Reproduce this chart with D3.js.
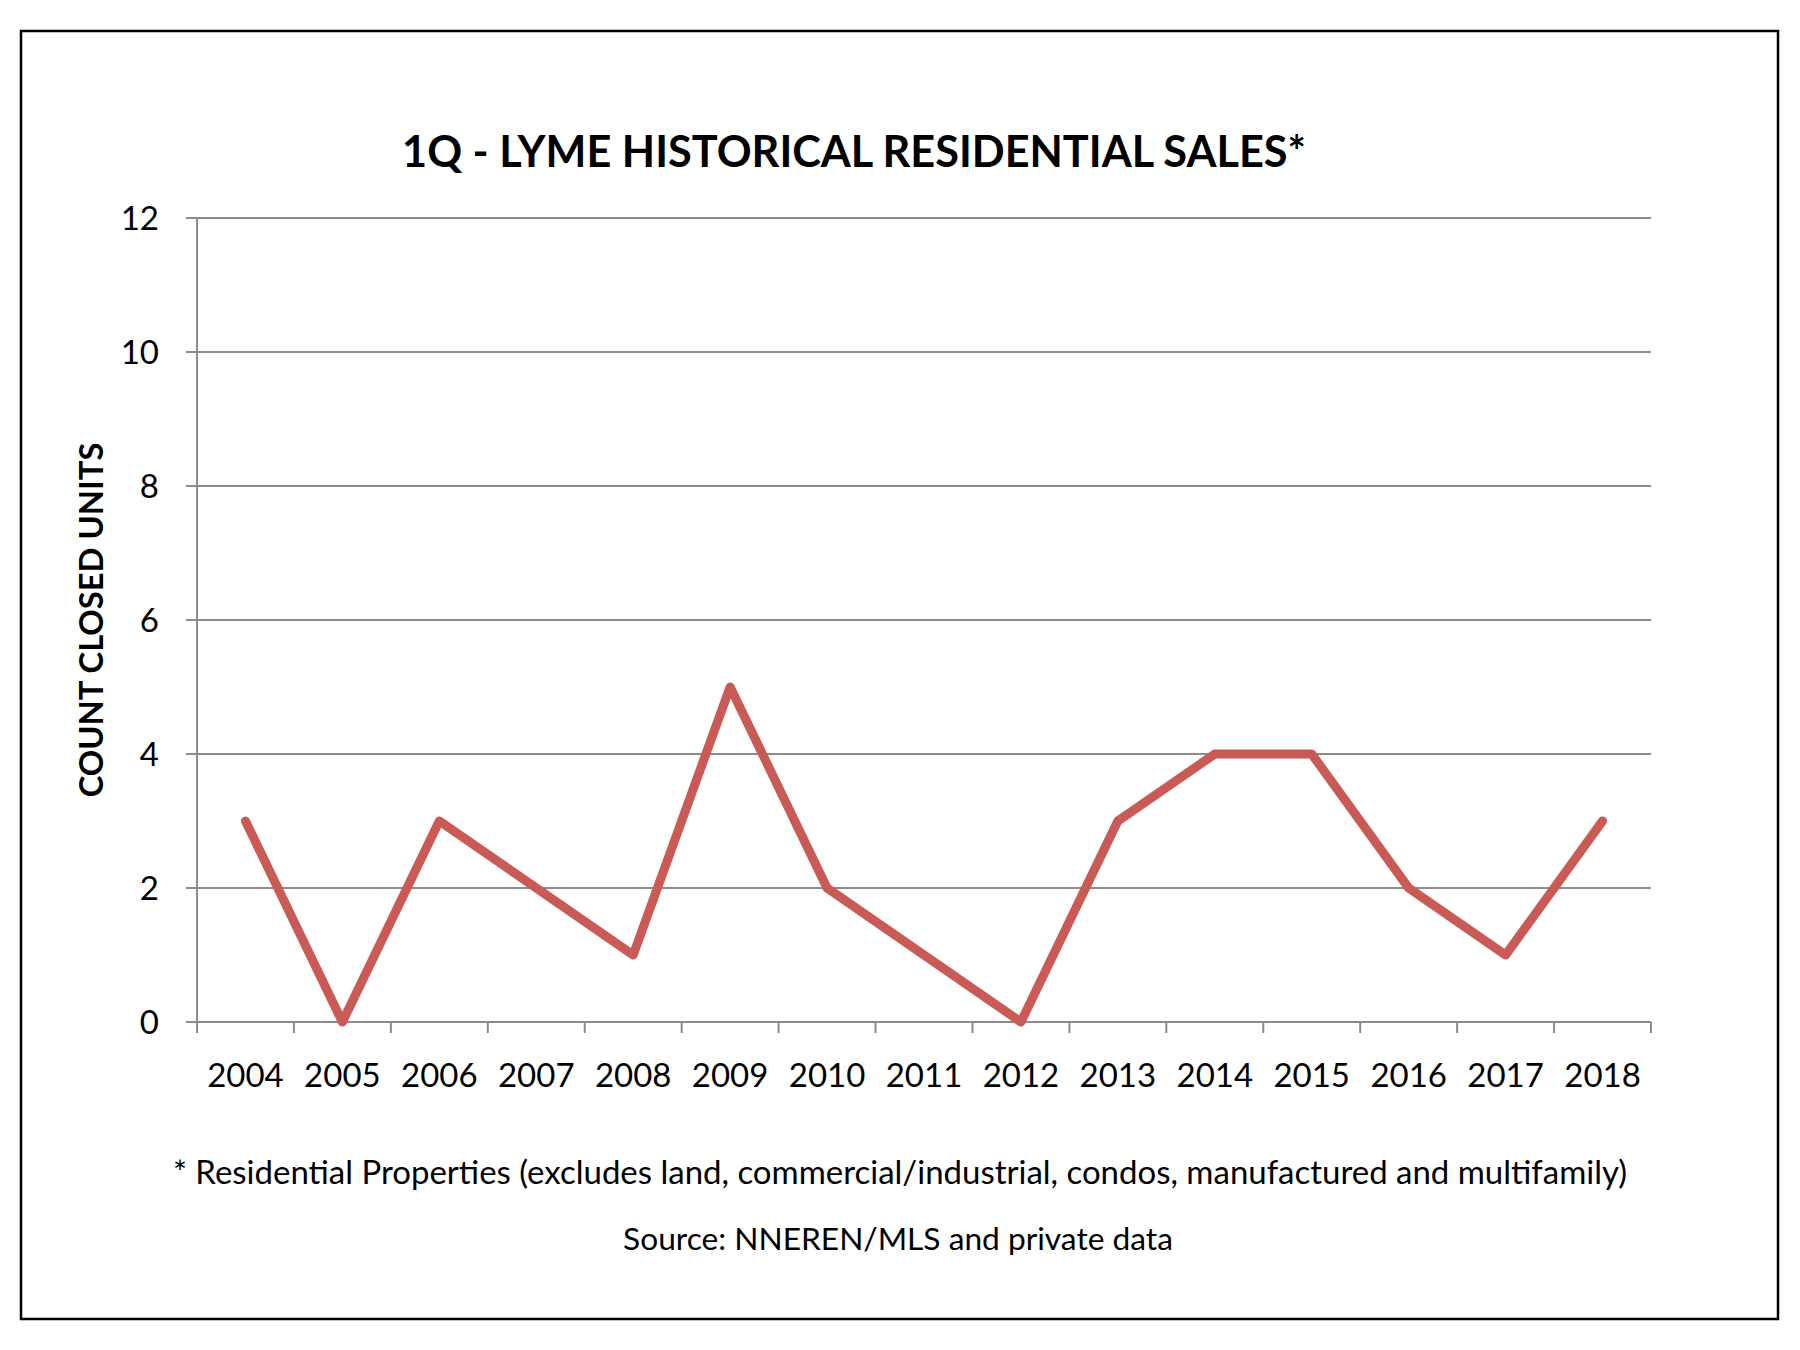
<!DOCTYPE html>
<html>
<head>
<meta charset="utf-8">
<script src="https://cdn.jsdelivr.net/npm/d3@7"></script>
<style>
  html, body { margin: 0; padding: 0; background: #fff; }
  svg { display: block; }
  text { font-family: Lato, "Open Sans", "DejaVu Sans", sans-serif; fill: #000; }
</style>
</head>
<body>
<script>
const years = ["2004","2005","2006","2007","2008","2009","2010","2011","2012","2013","2014","2015","2016","2017","2018"];
const sales = [3, 0, 3, 2, 1, 5, 2, 1, 0, 3, 4, 4, 2, 1, 3];
const yTicks = [0, 2, 4, 6, 8, 10, 12];
const titleText = "1Q - LYME HISTORICAL RESIDENTIAL SALES*";
const yAxisTitle = "COUNT CLOSED UNITS";
const footnote = "* Residential Properties (excludes land, commercial/industrial, condos, manufactured and multifamily)";
const sourceText = "Source: NNEREN/MLS and private data";

const W = 1800, H = 1350;
const plot = { left: 197, right: 1651, top: 218, bottom: 1022 };

const svg = d3.select("body").append("svg").attr("width", W).attr("height", H);
svg.append("rect").attr("width", W).attr("height", H).attr("fill", "#fff");

// outer border
svg.append("rect")
  .attr("x", 21).attr("y", 31).attr("width", 1757).attr("height", 1288)
  .attr("fill", "none").attr("stroke", "#000").attr("stroke-width", 2.5);

const x = d3.scaleBand().domain(years).range([plot.left, plot.right]).padding(0);
const y = d3.scaleLinear().domain([0, 12]).range([plot.bottom, plot.top]);

const grid = "#8c8c8c";

// gridlines
svg.append("g").selectAll("line").data(yTicks).join("line")
  .attr("x1", plot.left - 11).attr("x2", plot.right)
  .attr("y1", d => y(d)).attr("y2", d => y(d))
  .attr("stroke", grid).attr("stroke-width", 2);

// y axis line
svg.append("line")
  .attr("x1", plot.left).attr("x2", plot.left)
  .attr("y1", plot.top).attr("y2", plot.bottom + 11)
  .attr("stroke", grid).attr("stroke-width", 2);

// x ticks at band boundaries
const bounds = years.map(d => x(d)).concat([plot.right]);
svg.append("g").selectAll("line").data(bounds).join("line")
  .attr("x1", d => d).attr("x2", d => d)
  .attr("y1", plot.bottom).attr("y2", plot.bottom + 11)
  .attr("stroke", grid).attr("stroke-width", 2);

// y tick labels
svg.append("g").selectAll("text").data(yTicks).join("text")
  .attr("x", 159).attr("y", d => y(d))
  .attr("dy", "0.37em")
  .attr("text-anchor", "end")
  .style("font-size", "33px")
  .text(d => d);

// x tick labels
svg.append("g").selectAll("text").data(years).join("text")
  .attr("x", d => x(d) + x.bandwidth() / 2).attr("y", 1087)
  .attr("text-anchor", "middle")
  .style("font-size", "33px")
  .text(d => d);

// line
const line = d3.line()
  .x((d, i) => x(years[i]) + x.bandwidth() / 2)
  .y(d => y(d));
svg.append("path").datum(sales)
  .attr("d", line)
  .attr("fill", "none")
  .attr("stroke", "#c95a55")
  .attr("stroke-width", 9)
  .attr("stroke-linejoin", "round")
  .attr("stroke-linecap", "round");

function fit(sel, target, base) {
  sel.style("font-size", base + "px");
  const w = sel.node().getComputedTextLength();
  sel.style("font-size", (base * target / w) + "px");
}

// title
const t = svg.append("text").attr("x", 854).attr("y", 167)
  .attr("text-anchor", "middle").style("font-weight", "bold").text(titleText);
fit(t, 904, 44);

// y axis title
const yt = svg.append("text")
  .attr("transform", "translate(103,620) rotate(-90)")
  .attr("text-anchor", "middle").style("font-weight", "bold").text(yAxisTitle);
fit(yt, 355, 32);

// footnotes
const f1 = svg.append("text").attr("x", 900).attr("y", 1184)
  .attr("text-anchor", "middle").text(footnote);
fit(f1, 1455, 30);

const f2 = svg.append("text").attr("x", 898).attr("y", 1250)
  .attr("text-anchor", "middle").text(sourceText);
fit(f2, 550, 30);
</script>
</body>
</html>
